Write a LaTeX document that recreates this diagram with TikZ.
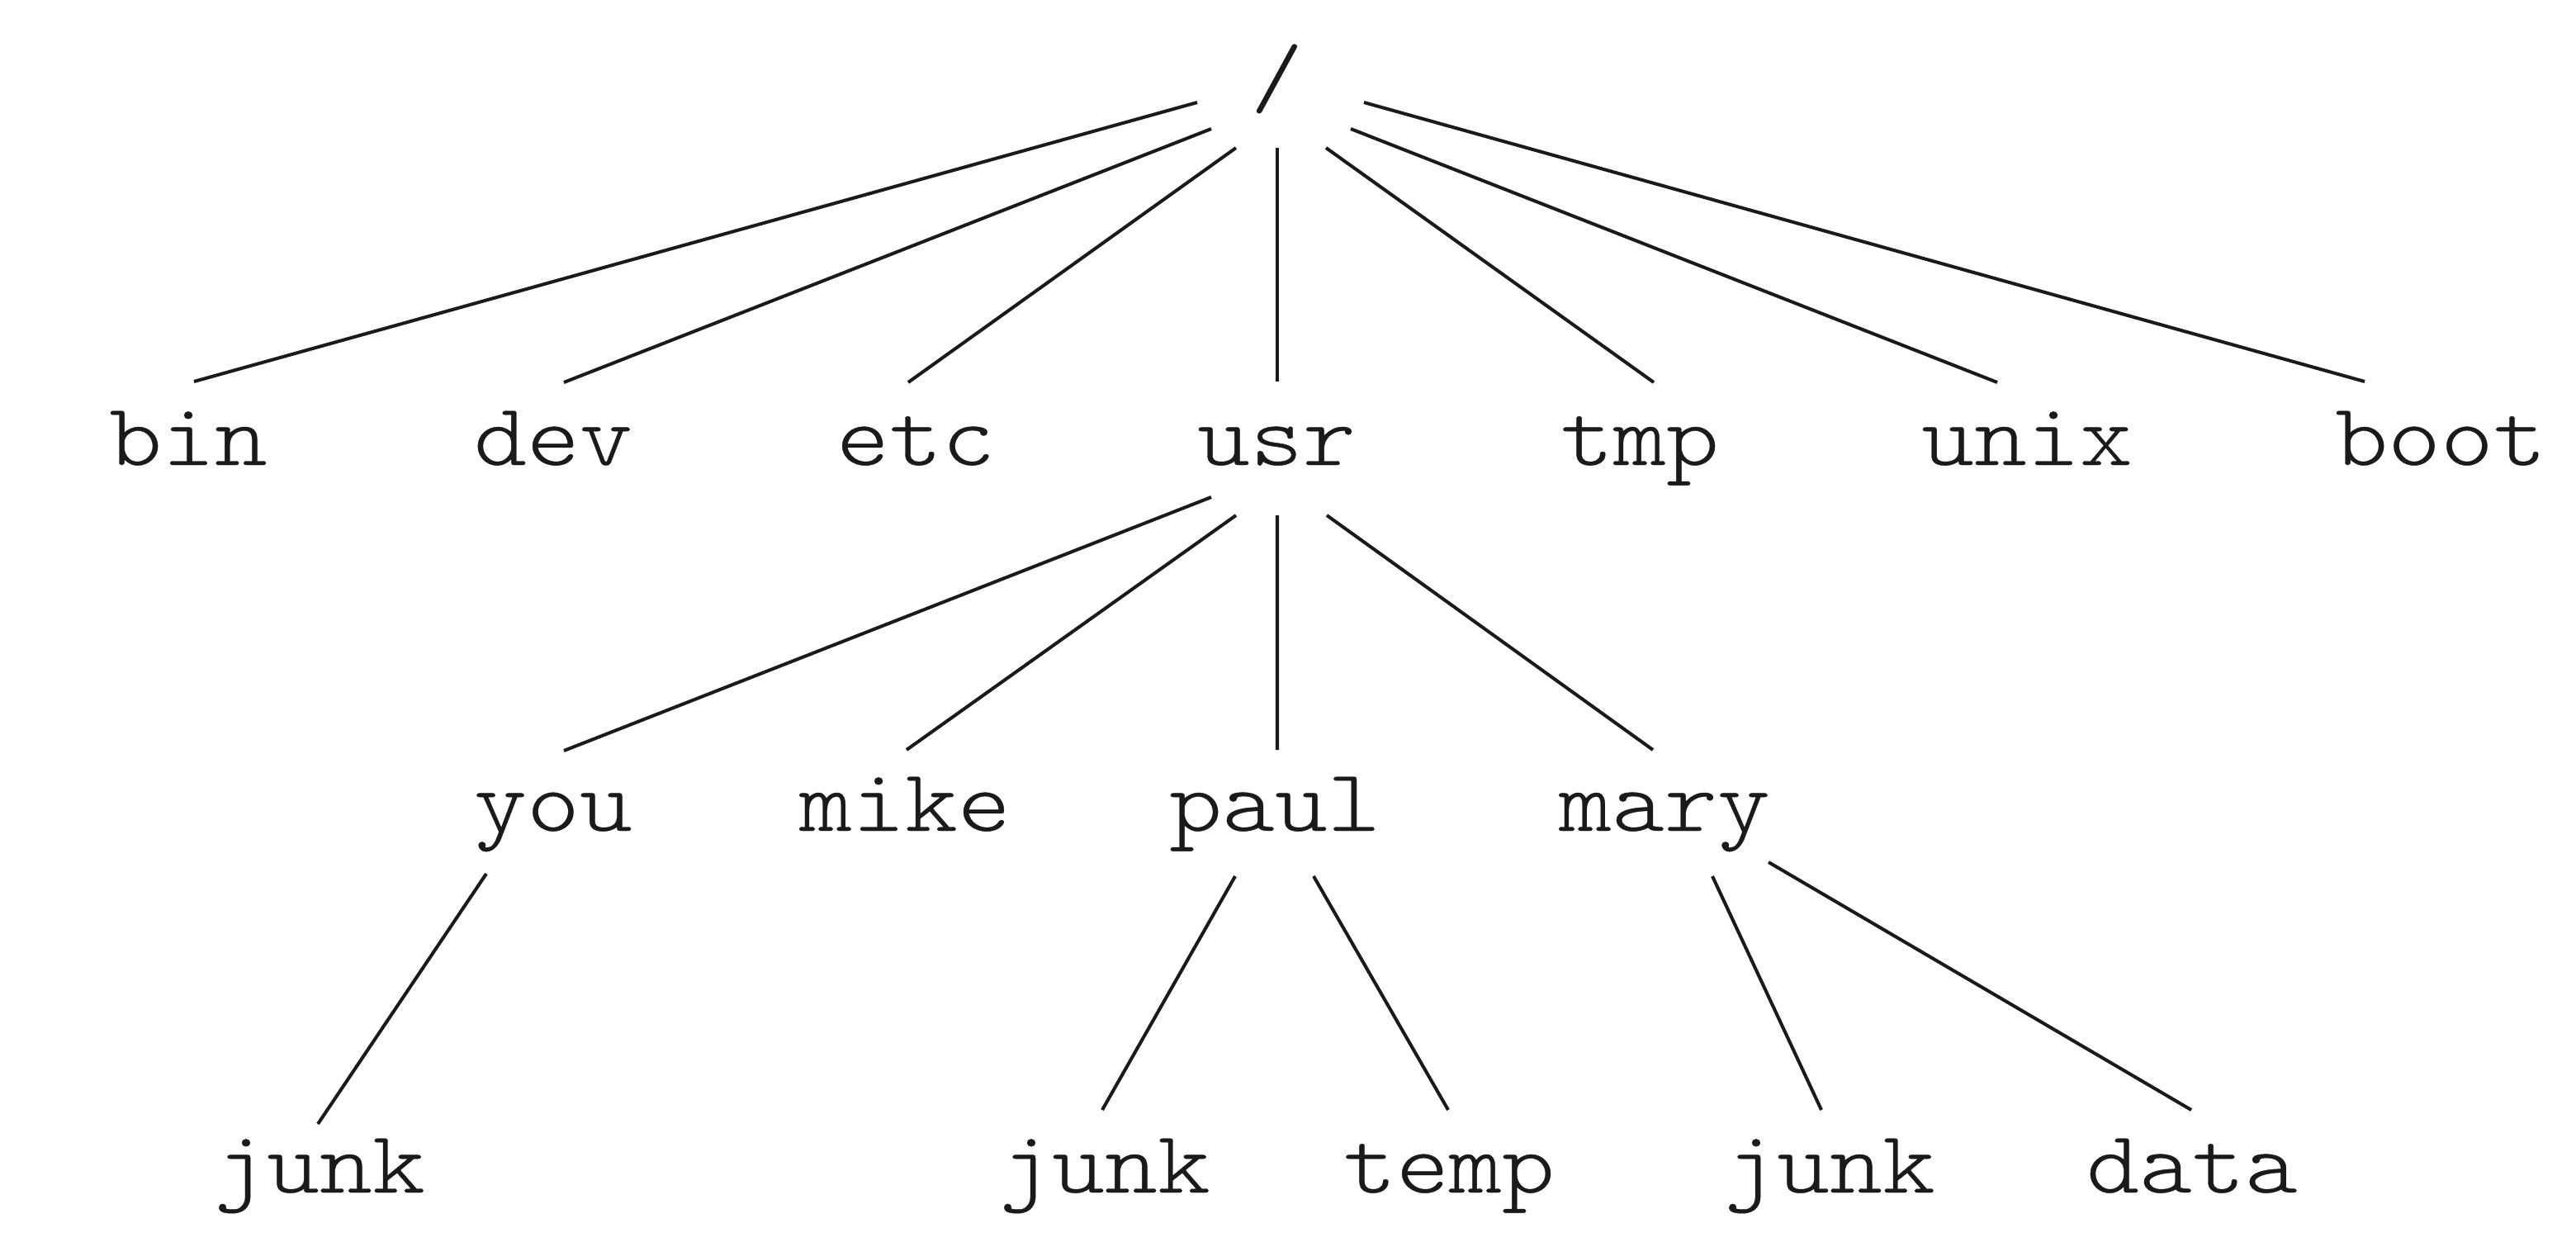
\documentclass[tikz,border=0pt]{standalone}
\usepackage{fontspec}
\newfontfamily\dirfont[FakeStretch=1.14,FakeBold=0.35]{lmmonolt10-regular.otf}
\definecolor{ink}{HTML}{1A1A1A}

\begin{document}
\begin{tikzpicture}[
  dir/.style={font=\dirfont\fontsize{30.4}{36}\selectfont, text=ink, inner sep=0pt, anchor=base},
  link/.style={draw=ink, line width=1.15pt}
]
\useasboundingbox (0,0) rectangle (31.2,-15.09);

% =====================
% RADICE
% =====================
\node[dir] (root) at (15.465,-1.28) {/};

% =====================
% PRIMO LIVELLO
% =====================
\node[dir] (bin)  at (2.28,-5.63)  {bin};
\node[dir] (dev)  at (6.70,-5.63)  {dev};
\node[dir] (etc)  at (11.09,-5.63) {etc};
\node[dir] (usr)  at (15.46,-5.63) {usr};
\node[dir] (tmp)  at (19.86,-5.63) {tmp};
\node[dir] (unix) at (24.55,-5.63) {unix};
\node[dir] (boot) at (29.56,-5.63) {boot};

% =====================
% SECONDO LIVELLO
% =====================
\node[dir] (you)  at (6.70,-10.06)  {you};
\node[dir] (mike) at (10.96,-10.06) {mike};
\node[dir] (paul) at (15.44,-10.06) {paul};
\node[dir] (mary) at (20.16,-10.06) {mary};

% =====================
% TERZO LIVELLO
% =====================
\node[dir] (junkyou)  at (3.87,-14.44)  {junk};
\node[dir] (junkpaul) at (13.38,-14.44) {junk};
\node[dir] (temp)     at (17.55,-14.44) {temp};
\node[dir] (junkmary) at (22.16,-14.44) {junk};
\node[dir] (data)     at (26.55,-14.44) {data};

% =====================
% RAMI DALLA RADICE
% =====================
\draw[link] ([shift={(-0.965,0.04)}]root.base)  -- ([shift={(0.07,1.01)}]bin.base);
\draw[link] ([shift={(-0.795,-0.28)}]root.base) -- ([shift={(0.13,1.00)}]dev.base);
\draw[link] ([shift={(-0.495,-0.51)}]root.base) -- ([shift={(-0.09,1.00)}]etc.base);
\draw[link] ([shift={(0.005,-0.51)}]root.base)  -- ([shift={(0.01,1.01)}]usr.base);
\draw[link] ([shift={(0.595,-0.51)}]root.base)  -- ([shift={(0.17,1.00)}]tmp.base);
\draw[link] ([shift={(0.895,-0.28)}]root.base)  -- ([shift={(-0.36,1.00)}]unix.base);
\draw[link] ([shift={(1.055,0.04)}]root.base)   -- ([shift={(-0.92,1.01)}]boot.base);

% =====================
% RAMI DA usr
% =====================
\draw[link] ([shift={(-0.79,-0.39)}]usr.base) -- ([shift={(0.13,0.97)}]you.base);
\draw[link] ([shift={(-0.49,-0.61)}]usr.base) -- ([shift={(0.02,0.98)}]mike.base);
\draw[link] ([shift={(0.01,-0.61)}]usr.base)  -- ([shift={(0.03,0.98)}]paul.base);
\draw[link] ([shift={(0.61,-0.61)}]usr.base)  -- ([shift={(-0.14,0.98)}]mary.base);

% =====================
% RAMI AL TERZO LIVELLO
% =====================
\draw[link] ([shift={(-0.81,-0.52)}]you.base)  -- ([shift={(-0.02,0.83)}]junkyou.base);
\draw[link] ([shift={(-0.48,-0.55)}]paul.base) -- ([shift={(-0.03,1.00)}]junkpaul.base);
\draw[link] ([shift={(0.47,-0.55)}]paul.base)  -- ([shift={(-0.01,1.00)}]temp.base);
\draw[link] ([shift={(0.58,-0.55)}]mary.base)  -- ([shift={(-0.10,1.00)}]junkmary.base);
\draw[link] ([shift={(1.26,-0.38)}]mary.base)  -- ([shift={(-0.01,1.00)}]data.base);

\end{tikzpicture}
\end{document}
